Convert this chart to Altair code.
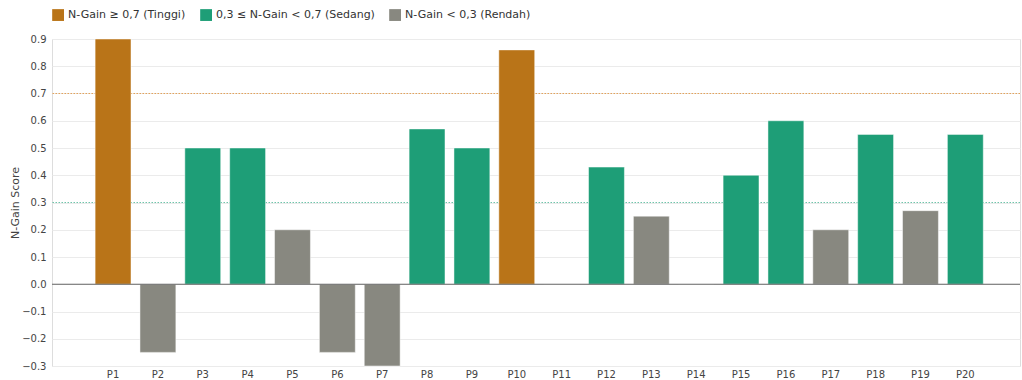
import altair as alt
import pandas as pd

participants = [f"P{i}" for i in range(1, 21)]
ngain = [0.9, -0.25, 0.5, 0.5, 0.2, -0.25, -0.3, 0.57, 0.5, 0.86,
         0.0, 0.43, 0.25, 0.0, 0.4, 0.6, 0.2, 0.55, 0.27, 0.55]
cat_labels = ["N-Gain ≥ 0,7 (Tinggi)", "0,3 ≤ N-Gain < 0,7 (Sedang)", "N-Gain < 0,3 (Rendah)"]
cat_colors = ["#b97418", "#1e9e77", "#888880"]
thresholds = [0.7, 0.3]
threshold_colors = ["#e08a2a", "#3fb08d"]
y_ticks = [-0.3, -0.2, -0.1, 0, 0.1, 0.2, 0.3, 0.4, 0.5, 0.6, 0.7, 0.8, 0.9]


def category(v):
    if v >= 0.7:
        return cat_labels[0]
    if v >= 0.3:
        return cat_labels[1]
    return cat_labels[2]


df = pd.DataFrame({"P": participants, "N": ngain, "Kategori": [category(v) for v in ngain]})
th_df = pd.DataFrame({"N": thresholds, "c": threshold_colors})
zero_df = pd.DataFrame({"N": [0.0]})

FONT = "DejaVu Sans"

x_scale = alt.Scale(domain=participants, paddingInner=0.2, paddingOuter=0.89, align=0.54)
y_scale = alt.Scale(domain=[-0.3, 0.9], nice=False, zero=False)


def y_enc():
    return alt.Y("N:Q", scale=y_scale, title="N-Gain Score",
                 axis=alt.Axis(values=y_ticks, format=".1f", ticks=False, domain=False, grid=True,
                               gridColor="#ebebeb", labelOverlap=False, labelFlush=False,
                               labelFontSize=10, labelColor="#444", labelPadding=6, labelFont=FONT,
                               titleFontSize=11, titleFontWeight="normal", titleColor="#444",
                               titleFont=FONT, titlePadding=1))


th = alt.Chart(th_df).mark_rule(strokeDash=[1.5, 1.5], strokeWidth=1.2, opacity=0.75).encode(
    y=y_enc(),
    color=alt.Color("c:N", scale=None, legend=None),
)

bars = alt.Chart(df).mark_bar(stroke="white", strokeWidth=0.8, strokeOpacity=0.6).encode(
    x=alt.X("P:N", sort=participants, scale=x_scale, title=None,
            axis=alt.Axis(labelAngle=0, ticks=False, domain=False, grid=False,
                          labelFontSize=10, labelColor="#444", labelPadding=3, labelFont=FONT)),
    y=y_enc(),
    color=alt.Color("Kategori:N", scale=alt.Scale(domain=cat_labels, range=cat_colors),
                    legend=alt.Legend(title=None, orient="none", legendX=0.1, legendY=-30,
                                      direction="horizontal", symbolType="square", symbolSize=140,
                                      symbolStrokeWidth=0, symbolOpacity=1, labelFontSize=11,
                                      labelColor="#333", labelFont=FONT, columnPadding=14,
                                      symbolOffset=0)),
)

zero = alt.Chart(zero_df).mark_rule(color="#666", strokeWidth=1.2).encode(y=y_enc())

chart = alt.layer(th, bars, zero).resolve_scale(color="independent").properties(
    width=968, height=327,
    autosize=alt.AutoSizeParams(type="none"),
    padding={"left": 52, "top": 39, "right": 2, "bottom": 14},
).configure_view(strokeWidth=0).configure(font=FONT)

chart.save("out.html", embed_options={"renderer": "svg", "actions": False})
